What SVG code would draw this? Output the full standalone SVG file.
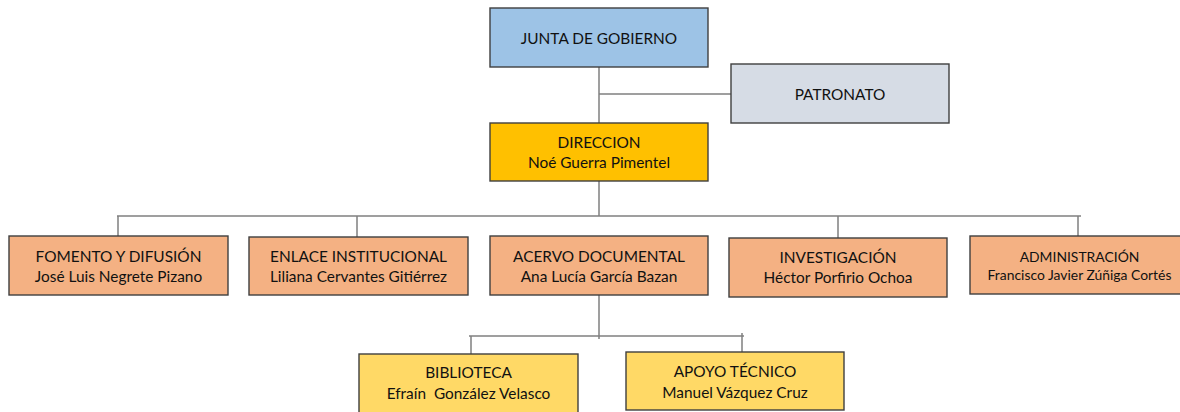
<svg xmlns="http://www.w3.org/2000/svg" width="1180" height="412" viewBox="0 0 1180 412">
<style>
.box{stroke:#3f3f3f;stroke-width:1.4}
.blue{fill:#9DC3E6}.grey{fill:#D6DCE5}.gold{fill:#FFC000}.orange{fill:#F4B183}.yellow{fill:#FFD966}
text{font-family:Lato,"Liberation Sans",sans-serif;font-size:15.4px;fill:#111111;text-anchor:middle}
.sm{font-size:13.9px}
.ln{stroke:#808080;stroke-width:1.5;fill:none}
</style>
<rect width="1180" height="412" fill="#ffffff"/>
<g id="connectors">
<path class="ln" d="M599 67V123M599 94H731M599 181V216M117 216H1081M118 216V236M357 216V237M838 216V238M1078 216V236M599 295V339M469 336H744M471 336V354M742 333V352"/>
</g>
<g id="junta"><rect class="box blue" x="490" y="8" width="218" height="59"/><text x="599" y="44">JUNTA DE GOBIERNO</text></g>
<g id="patronato"><rect class="box grey" x="731" y="64" width="218" height="59"/><text x="840" y="100">PATRONATO</text></g>
<g id="direccion"><rect class="box gold" x="490" y="123" width="218" height="58"/><text x="599" y="148">DIRECCION</text><text x="599" y="168">Noé Guerra Pimentel</text></g>
<g id="fomento"><rect class="box orange" x="9" y="236" width="219" height="59"/><text x="118.5" y="262">FOMENTO Y DIFUSIÓN</text><text x="118.5" y="282">José Luis Negrete Pizano</text></g>
<g id="enlace"><rect class="box orange" x="249" y="237" width="219" height="58"/><text x="358.5" y="262">ENLACE INSTITUCIONAL</text><text x="358.5" y="282">Liliana Cervantes Gitiérrez</text></g>
<g id="acervo"><rect class="box orange" x="490" y="236" width="218" height="59"/><text x="599" y="262">ACERVO DOCUMENTAL</text><text x="599" y="282">Ana Lucía García Bazan</text></g>
<g id="investigacion"><rect class="box orange" x="729" y="238" width="218" height="59"/><text x="838" y="263">INVESTIGACIÓN</text><text x="838" y="283">Héctor Porfirio Ochoa</text></g>
<g id="administracion"><rect class="box orange" x="970" y="236" width="215" height="58"/><text class="sm" x="1079.5" y="262">ADMINISTRACIÓN</text><text class="sm" x="1079.5" y="280">Francisco Javier Zúñiga Cortés</text></g>
<g id="biblioteca"><rect class="box yellow" x="359" y="354" width="219" height="64"/><text x="468.5" y="378">BIBLIOTECA</text><text x="468.5" y="399" xml:space="preserve">Efraín  González Velasco</text></g>
<g id="apoyo"><rect class="box yellow" x="626" y="352" width="218" height="58"/><text x="735" y="377">APOYO TÉCNICO</text><text x="735" y="398">Manuel Vázquez Cruz</text></g>
</svg>
